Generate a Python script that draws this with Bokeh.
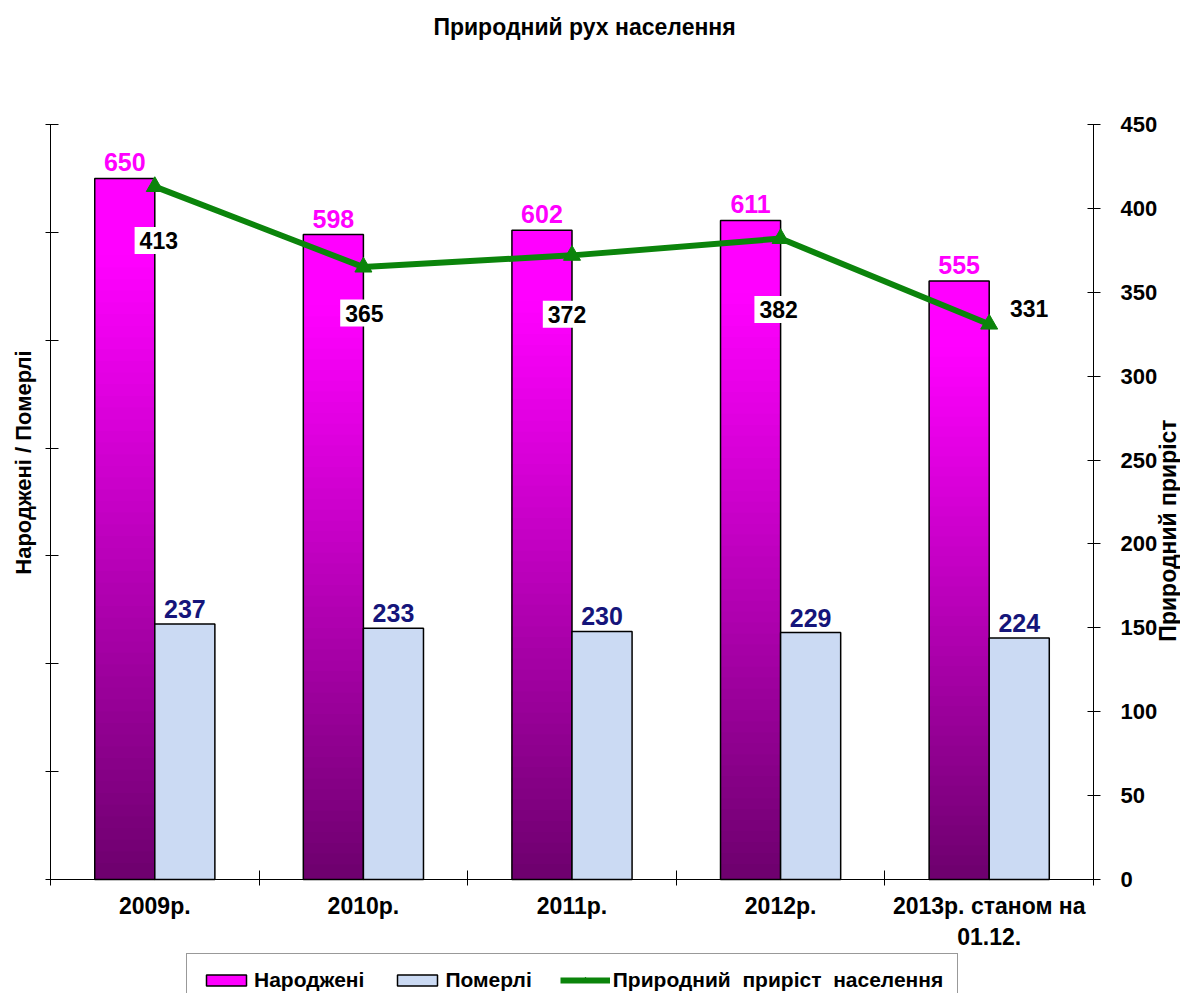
import math
from bokeh.plotting import figure
from bokeh.models import (Range1d, LinearAxis, FixedTicker, Legend, LegendItem,
                          ColumnDataSource, Label)
from bokeh.core.properties import value
from bokeh.embed import file_html
from bokeh.resources import INLINE

# ---------------- data ----------------
categories = ["2009р.", "2010р.", "2011р.", "2012р.", "2013р. станом на\n01.12."]
born = [650, 598, 602, 611, 555]
died = [237, 233, 230, 229, 224]
growth = [413, 365, 372, 382, 331]
left_ticks = [0, 100, 200, 300, 400, 500, 600, 700]
right_ticks = [0, 50, 100, 150, 200, 250, 300, 350, 400, 450]
LEFT_MAX = 700
RIGHT_MAX = 450

# label offsets (style, px)
grow_dx = [4, 1, -5, -2, 40]
grow_dy = [54, 46, 59, 71, -16]

FONT = "Liberation Sans"
BAR_W = 0.288

# ---- layout constants (pixels) ----
W, H = 1180, 993
PX_LEFT, PX_RIGHT = 50, 1093        # x of left and right value axes
PX_TOP, PX_ZERO = 124, 879          # y of axis top and of value 0
NCAT = len(categories)
sc_x = (PX_RIGHT - PX_LEFT) / NCAT
sc_l = (PX_ZERO - PX_TOP) / LEFT_MAX
sc_r = (PX_ZERO - PX_TOP) / RIGHT_MAX
x_rng = Range1d(-PX_LEFT / sc_x, NCAT + (W - PX_RIGHT) / sc_x)
y_left = Range1d(-(H - PX_ZERO) / sc_l, LEFT_MAX + PX_TOP / sc_l)
y_right = Range1d(-(H - PX_ZERO) / sc_r, RIGHT_MAX + PX_TOP / sc_r)

p = figure(width=W, height=H, output_backend="svg", toolbar_location=None,
           x_range=x_rng, y_range=y_left,
           min_border_left=0, min_border_right=0, min_border_top=0,
           min_border_bottom=0, title=None)
p.outline_line_color = None
p.xgrid.visible = False
p.ygrid.visible = False
p.background_fill_color = "white"
p.border_fill_color = "white"
p.extra_y_ranges = {"right": y_right}

centers = [i + 0.5 for i in range(NCAT)]

# ---- born bars: vertical gradient built from slices ----
N = 60
sl_left, sl_right, sl_bottom, sl_top, sl_color = [], [], [], [], []
for j in range(N):  # j = 0 is the top slice
    f = (j + 0.5) / N
    c = 255 if f < 0.12 else int(round(255 - 145 * (f - 0.12) / 0.88))
    col = "#%02x00%02x" % (c, c)
    for i, b in enumerate(born):
        top = b * (N - j) / N
        bot = b * (N - j - 1) / N
        sl_left.append(centers[i] - BAR_W)
        sl_right.append(centers[i])
        sl_bottom.append(bot)
        sl_top.append(min(b, top + b * 0.4 / N))
        sl_color.append(col)
slices = p.quad(left=sl_left, right=sl_right, bottom=sl_bottom, top=sl_top,
                fill_color=sl_color, line_color=None)
born_outline = p.quad(left=[c - BAR_W for c in centers], right=centers,
                      bottom=[0] * len(born), top=born,
                      fill_color=None, line_color="black", line_width=1.5)

# ---- died bars ----
died_r = p.quad(left=centers, right=[c + BAR_W for c in centers],
                bottom=[0] * len(died), top=died,
                fill_color="#CBDAF3", line_color="black", line_width=1.5)

# ---- growth line ----
line_r = p.line(centers, growth, y_range_name="right", line_color="#0B840B",
                line_width=6)
mark_r = p.scatter(centers, growth, y_range_name="right", marker="triangle",
                   size=17, fill_color="#0B840B", line_color="#0B840B")

# ---- value labels ----
p.text(x=[c - BAR_W / 2 for c in centers], y=born, text=[str(v) for v in born],
       y_offset=-16, text_align="center", text_baseline="alphabetic",
       text_font=value(FONT), text_font_style="bold", text_font_size="25px",
       text_color="#FF00FF")
p.text(x=[c + BAR_W / 2 for c in centers], y=died, text=[str(v) for v in died],
       y_offset=-15, text_align="center", text_baseline="alphabetic",
       text_font=value(FONT), text_font_style="bold", text_font_size="25px",
       text_color="#15157A")
gsrc = ColumnDataSource(dict(x=centers, y=growth, t=[str(v) for v in growth],
                             dx=grow_dx, dy=grow_dy))
p.text(x="x", y="y", text="t", x_offset="dx", y_offset="dy", source=gsrc,
       y_range_name="right", text_align="center", text_baseline="middle",
       text_font=value(FONT), text_font_style="bold", text_font_size="23px",
       text_color="black", background_fill_color="white", padding=5)

# ---- axes ----
xa = p.xaxis[0]
xa.fixed_location = 0
xa.bounds = (0, NCAT)
xa.ticker = FixedTicker(ticks=centers, minor_ticks=list(range(NCAT + 1)))
xa.major_label_overrides = {c: lab for c, lab in zip(centers, categories)}
xa.major_tick_line_color = None
xa.major_tick_in = 0
xa.major_tick_out = 6
xa.minor_tick_line_color = "black"
xa.minor_tick_in = 9
xa.minor_tick_out = 6
xa.axis_line_color = "black"
xa.major_label_standoff = 7
xa.major_label_text_font = FONT
xa.major_label_text_font_style = "bold"
xa.major_label_text_font_size = "23px"
xa.major_label_text_color = "black"

ya = p.yaxis[0]
ya.fixed_location = 0
ya.bounds = (0, LEFT_MAX)
ya.ticker = FixedTicker(ticks=[], minor_ticks=left_ticks)
ya.major_tick_out = 5
ya.major_label_standoff = 0
ya.minor_tick_in = 8
ya.minor_tick_out = 5
ya.minor_tick_line_color = "black"
ya.axis_line_color = "black"

ra = LinearAxis(y_range_name="right", bounds=(0, RIGHT_MAX), fixed_location=NCAT,
                ticker=FixedTicker(ticks=right_ticks, minor_ticks=[]))
ra.major_tick_in = 6
ra.major_tick_out = 7
ra.minor_tick_line_color = None
ra.axis_line_color = "black"
ra.major_label_standoff = 20
ra.major_label_text_font = FONT
ra.major_label_text_font_style = "bold"
ra.major_label_text_font_size = "22px"
ra.major_label_text_color = "black"
p.add_layout(ra, "right")

# ---- titles (the frame spans the whole canvas) ----
def screen_label(x, y, text, size, angle=0.0):
    p.add_layout(Label(x=x, y=H - y, x_units="screen", y_units="screen",
                       text=text, angle=angle, text_align="center",
                       text_baseline="middle", text_font=FONT,
                       text_font_style="bold", text_font_size=size,
                       text_color="black"))

screen_label(584, 26, "Природний рух населення", "23px")
screen_label(23, 462, "Народжені / Померлі", "22px", math.pi / 2)
screen_label(1167, 530, "Природний приріст", "23px", math.pi / 2)

# ---- legend ----
legend = Legend(items=[
    LegendItem(label="Народжені", renderers=[slices, born_outline], index=2),
    LegendItem(label="Померлі", renderers=[died_r]),
    LegendItem(label="Природний  приріст  населення", renderers=[line_r, mark_r]),
], location=(186, H - (959 + 48)), orientation="horizontal")
legend.padding = 14
legend.margin = 0
legend.spacing = 28
legend.glyph_width = 50
legend.glyph_height = 14
legend.label_height = 20
legend.label_standoff = 3
legend.label_text_font = FONT
legend.label_text_font_style = "bold"
legend.label_text_font_size = "21px"
legend.label_text_color = "black"
legend.border_line_color = "#333333"
legend.border_line_width = 1.5
legend.background_fill_color = "white"
legend.background_fill_alpha = 1.0
p.add_layout(legend, "center")

open("out.html", "w").write(file_html(p, INLINE))
